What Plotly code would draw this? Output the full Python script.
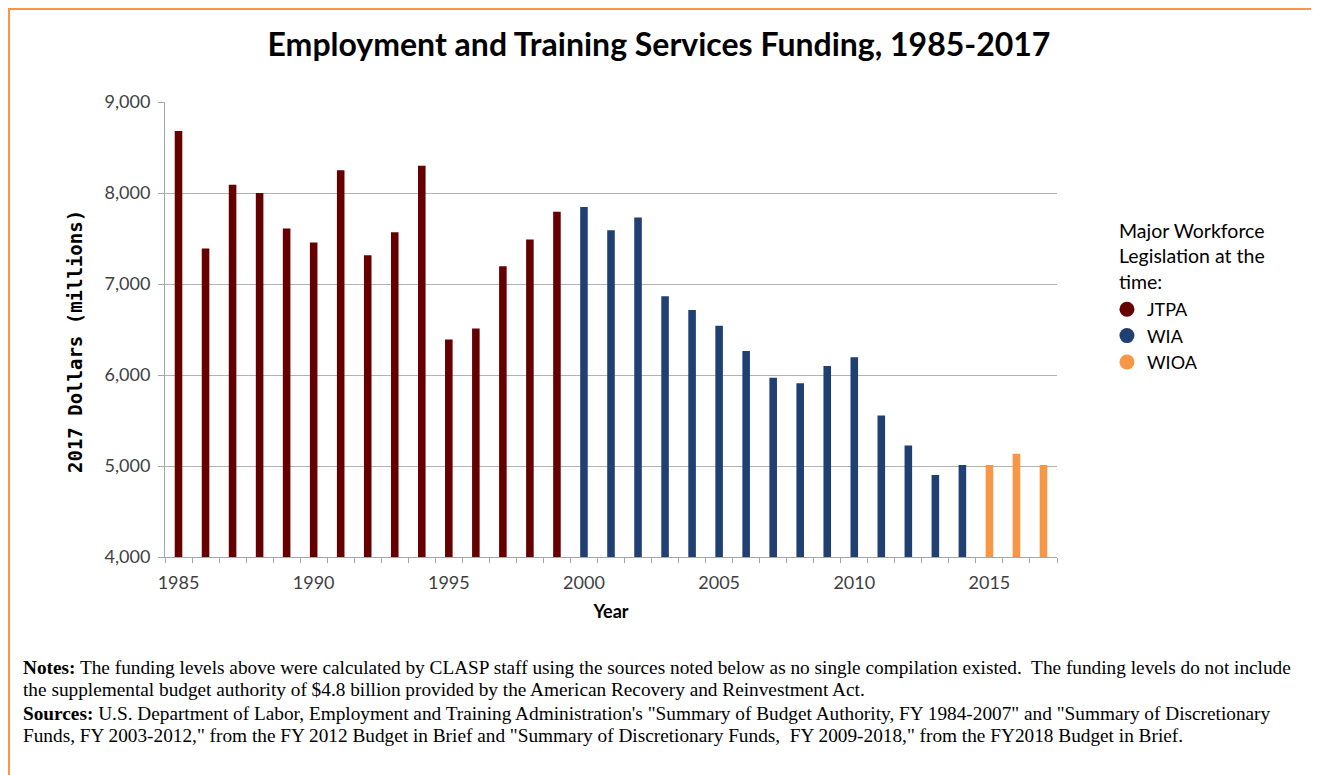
import plotly.graph_objects as go

jtpa_years = list(range(1985, 2000))
jtpa_vals = [8680, 7390, 8090, 8000, 7610, 7455, 8250, 7315, 7570, 8300, 6390, 6510, 7195, 7490, 7795]
wia_years = list(range(2000, 2015))
wia_vals = [7845, 7590, 7730, 6865, 6715, 6540, 6265, 5970, 5910, 6100, 6195, 5555, 5225, 4900, 5010]
wioa_years = [2015, 2016, 2017]
wioa_vals = [5010, 5135, 5010]

series = [
    ("JTPA", jtpa_years, jtpa_vals, "#660000"),
    ("WIA", wia_years, wia_vals, "#203F72"),
    ("WIOA", wioa_years, wioa_vals, "#F79646"),
]

notes_lines = [
    "<b>Notes:</b> The funding levels above were calculated by CLASP staff using the sources noted below as no single compilation existed.  The funding levels do not include",
    "the supplemental budget authority of $4.8 billion provided by the American Recovery and Reinvestment Act.",
    "<b>Sources:</b> U.S. Department of Labor, Employment and Training Administration's \"Summary of Budget Authority, FY 1984-2007\" and \"Summary of Discretionary",
    "Funds, FY 2003-2012,\" from the FY 2012 Budget in Brief and \"Summary of Discretionary Funds,  FY 2009-2018,\" from the FY2018 Budget in Brief.",
]

W, H = 1311, 767
L, T, PW, PH = 157, 94, 892, 455

fig = go.Figure()
for name, xs, ys, col in series:
    fig.add_trace(go.Bar(x=xs, y=ys, name=name, marker=dict(color=col, line=dict(width=0)),
                         width=0.28, showlegend=False, legendgroup=name))
for name, xs, ys, col in series:
    fig.add_trace(go.Scatter(x=[None], y=[None], mode="markers", name=name, legendgroup=name,
                             marker=dict(color=col, size=15, symbol="circle")))

gray = "#A6A6A6"
tickfont = dict(family="Lato", size=18, color="#404040")


def px(x):
    return (x - L) / PW


def py(y):
    return (T + PH - y) / PH


fig.update_layout(
    width=W, height=H,
    paper_bgcolor="white", plot_bgcolor="white",
    margin=dict(l=L, r=W - L - PW, t=T, b=H - T - PH),
    barmode="overlay",
    title=dict(text="<b>Employment and Training Services Funding, 1985-2017</b>",
               x=651 / W, xanchor="center", xref="container", y=1 - 37 / H, yref="container", yanchor="middle",
               font=dict(family="Lato", size=32, color="black")),
    xaxis=dict(range=[1984.5, 2017.5], tickmode="linear", tick0=1985, dtick=5,
               ticks="", showgrid=False, showline=True, linecolor=gray, linewidth=1,
               tickfont=tickfont, zeroline=False, ticklabelstandoff=9,
               minor=dict(tick0=1984.5, dtick=1, ticks="outside", ticklen=5, tickcolor=gray, showgrid=False),
               title=dict(text="<b>Year</b>", font=dict(family="Lato", size=18, color="black"), standoff=13)),
    yaxis=dict(range=[4000, 9000], tickmode="linear", tick0=4000, dtick=1000, tickformat=",",
               ticks="outside", ticklen=6, tickcolor=gray, showgrid=True, gridcolor="#B3B3B3", gridwidth=1,
               showline=True, linecolor=gray, linewidth=1, zeroline=False, tickfont=tickfont,
               ticklabelstandoff=4),
    legend=dict(x=1.056, y=py(283), xanchor="left", yanchor="top", tracegroupgap=0,
                font=dict(family="Lato", size=18, color="black"), itemwidth=30,
                bgcolor="rgba(0,0,0,0)"),
)

fig.add_annotation(text="<b>2017 Dollars (millions)</b>", xref="paper", yref="paper",
                   x=px(67), y=py(334), xanchor="center", yanchor="middle", textangle=-90,
                   showarrow=False, font=dict(family="DejaVu Sans Mono", size=19, color="black"))

fig.add_annotation(text="Major Workforce<br>Legislation at the<br>time:", xref="paper", yref="paper",
                   x=px(1109), y=py(248), xanchor="left", yanchor="middle", align="left", showarrow=False,
                   font=dict(family="Lato", size=19.5, color="black"))

line_centers = [659, 681, 705, 727]
for txt, yc in zip(notes_lines, line_centers):
    fig.add_annotation(text=txt, xref="paper", yref="paper", x=px(13), y=py(yc),
                       xanchor="left", yanchor="middle", align="left", showarrow=False,
                       font=dict(family="Liberation Serif", size=19.3, color="black"))

fig.add_shape(type="rect", xref="paper", yref="paper",
              x0=px(1), x1=px(1308), y0=py(790), y1=py(1),
              line=dict(color="#F79646", width=2), fillcolor="rgba(0,0,0,0)", layer="above")

fig.write_html("out.html")
